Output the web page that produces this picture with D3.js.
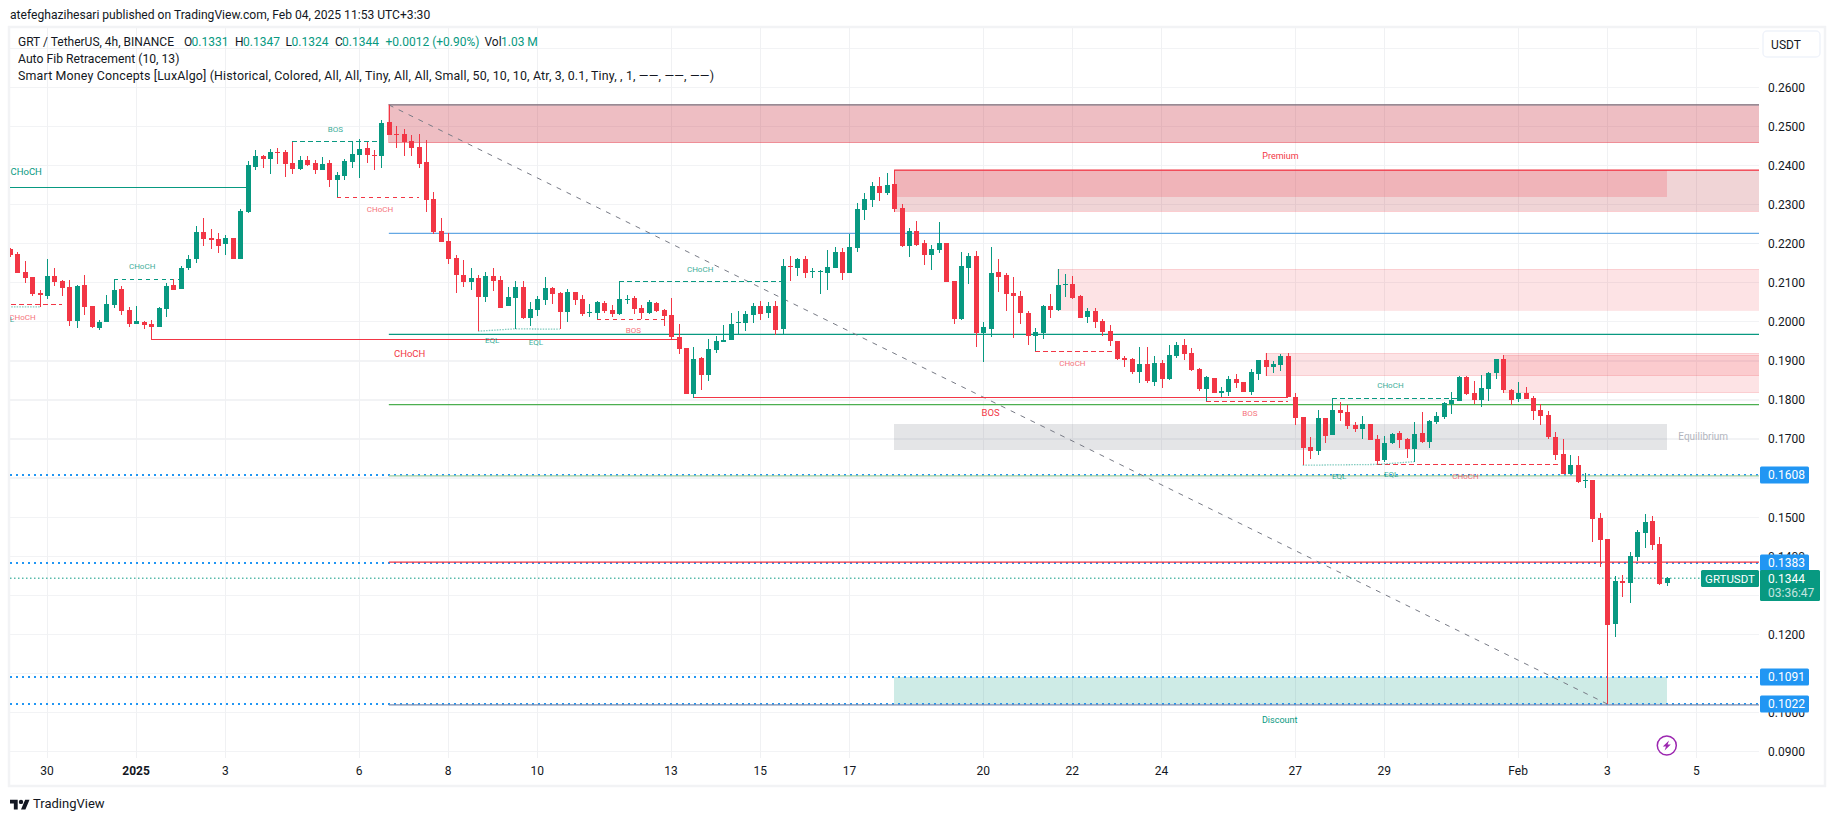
<!DOCTYPE html>
<html>
<head>
<meta charset="utf-8">
<script src="https://cdn.jsdelivr.net/npm/d3@7"></script>
<style>
  html, body { margin: 0; padding: 0; background: #fff; }
  svg { display: block; font-family: Roboto, sans-serif; }
  text { fill: #131722; }
</style>
</head>
<body>
<svg id="chart" width="1835" height="821"></svg>
<script>
// candles, one row = 10 bars of 4h
var opens = [
  .2185,.2173,.2127,.2114,.2073,.2065,.2116,.2104,.2088,.2001,
  .2093,.2040,.1983,.1999,.2042,.2083,.2029,.1994,.1999,.1994,
  .1986,.2032,.2093,.2083,.2137,.2160,.2229,.2214,.2211,.2198,
  .2214,.2160,.2281,.2397,.2424,.2417,.2435,.2435,.2406,.2391,
  .2414,.2406,.2388,.2406,.2363,.2372,.2409,.2427,.2445,.2427,
  .2424,.2511,.2481,.2481,.2463,.2447,.2409,.2314,.2232,.2207,
  .2162,.2119,.2101,.2111,.2063,.2116,.2106,.2040,.2060,.2088,
  .2009,.2029,.2055,.2086,.2073,.2024,.2075,.2058,.2023,.2022,
  .2047,.2029,.2020,.2057,.2061,.2036,.2023,.2049,.2031,.2018,
  .1962,.1933,.1816,.1908,.1864,.1928,.1949,.1954,.1998,.1997,
  .2018,.2041,.2023,.2041,.1982,.2143,.2138,.2161,.2128,.2129,
  .2125,.2138,.2179,.2125,.2189,.2287,.2312,.2348,.2330,.2353,
  .2292,.2194,.2233,.2202,.2171,.2184,.2202,.2105,.2008,.2138,
  .2169,.1972,.1982,.2128,.2120,.2074,.2067,.2023,.1964,.1972,
  .2041,.2031,.2096,.2097,.2067,.2013,.2028,.2003,.1977,.1951,
  .1908,.1905,.1872,.1892,.1846,.1895,.1854,.1913,.1941,.1921,
  .1880,.1829,.1857,.1818,.1821,.1854,.1846,.1821,.1867,.1903,
  .1885,.1890,.1913,.1807,.1757,.1680,.1670,.1754,.1711,.1775,
  .1769,.1736,.1726,.1739,.1700,.1646,.1690,.1716,.1700,.1675,
  .1716,.1693,.1744,.1757,.1790,.1798,.1859,.1818,.1799,.1828,
  .1868,.1904,.1825,.1802,.1819,.1804,.1774,.1761,.1705,.1661,
  .1610,.1633,.1593,.1595,.1498,.1444,.1226,.1336,.1331,.1398,
  .1459,.1490,.1431,.1331
];
var highs = [
  .2188,.2178,.2155,.2114,.2081,.2160,.2137,.2108,.2106,.2093,
  .2119,.2040,.2004,.2068,.2108,.2091,.2037,.2040,.2001,.2004,
  .2037,.2098,.2110,.2142,.2170,.2244,.2265,.2237,.2226,.2221,
  .2214,.2288,.2412,.2440,.2428,.2442,.2444,.2440,.2461,.2424,
  .2425,.2414,.2422,.2414,.2384,.2417,.2463,.2467,.2461,.2440,
  .2516,.2554,.2501,.2493,.2478,.2481,.2465,.2332,.2266,.2226,
  .2170,.2157,.2137,.2119,.2127,.2137,.2116,.2088,.2104,.2104,
  .2050,.2065,.2114,.2088,.2075,.2083,.2075,.2068,.2045,.2052,
  .2052,.2042,.2105,.2069,.2067,.2044,.2056,.2051,.2033,.2061,
  .1995,.1933,.1936,.1910,.1956,.1964,.1992,.2023,.2028,.2028,
  .2049,.2054,.2051,.2054,.2161,.2169,.2164,.2169,.2138,.2133,
  .2184,.2192,.2189,.2225,.2305,.2330,.2358,.2371,.2381,.2389,
  .2301,.2241,.2258,.2210,.2197,.2256,.2202,.2105,.2179,.2177,
  .2182,.2000,.2192,.2161,.2125,.2115,.2079,.2028,.1985,.2044,
  .2072,.2136,.2123,.2118,.2069,.2036,.2036,.2008,.1992,.1951,
  .1913,.1908,.1936,.1936,.1913,.1903,.1941,.1949,.1956,.1933,
  .1882,.1862,.1857,.1833,.1862,.1867,.1846,.1880,.1903,.1920,
  .1900,.1918,.1920,.1818,.1757,.1706,.1775,.1754,.1804,.1795,
  .1787,.1744,.1759,.1739,.1711,.1708,.1716,.1721,.1703,.1744,
  .1770,.1749,.1770,.1795,.1821,.1862,.1862,.1849,.1863,.1872,
  .1904,.1914,.1828,.1845,.1833,.1810,.1789,.1771,.1717,.1700,
  .1659,.1656,.1613,.1595,.1510,.1444,.1349,.1352,.1411,.1467,
  .1508,.1503,.1449,.1347
];
var lows = [
  .2165,.2125,.2099,.2066,.2037,.2058,.2091,.2065,.1988,.1983,
  .2017,.1983,.1978,.1999,.2035,.2017,.1986,.1994,.1981,.1954,
  .1986,.2011,.2081,.2083,.2132,.2150,.2193,.2185,.2175,.2170,
  .2160,.2160,.2279,.2388,.2394,.2379,.2404,.2371,.2379,.2388,
  .2399,.2378,.2388,.2346,.2319,.2363,.2393,.2369,.2406,.2388,
  .2394,.2478,.2445,.2424,.2424,.2394,.2281,.2225,.2204,.2149,
  .2073,.2089,.2081,.1976,.2050,.2078,.2035,.2040,.1982,.2006,
  .1988,.2016,.2042,.2045,.1981,.1999,.2042,.2014,.2011,.2006,
  .2022,.2011,.2018,.2046,.2020,.2008,.2020,.2026,.1988,.1956,
  .1918,.1816,.1806,.1826,.1849,.1921,.1949,.1954,.1967,.1977,
  .1997,.2005,.2010,.1967,.1969,.2105,.2118,.2113,.2113,.2072,
  .2082,.2138,.2107,.2125,.2179,.2261,.2294,.2310,.2325,.2281,
  .2192,.2166,.2194,.2146,.2133,.2177,.2102,.1995,.2005,.2097,
  .1936,.1898,.1962,.2077,.2028,.1959,.1995,.1941,.1925,.1956,
  .2010,.2028,.2064,.2059,.2010,.1997,.1985,.1964,.1939,.1903,
  .1885,.1867,.1844,.1844,.1836,.1831,.1852,.1908,.1903,.1875,
  .1823,.1798,.1818,.1808,.1810,.1831,.1821,.1813,.1851,.1862,
  .1869,.1874,.1807,.1736,.1633,.1649,.1659,.1690,.1711,.1746,
  .1726,.1718,.1700,.1698,.1634,.1641,.1688,.1677,.1652,.1641,
  .1690,.1677,.1739,.1752,.1764,.1798,.1813,.1790,.1782,.1797,
  .1853,.1818,.1787,.1794,.1802,.1748,.1735,.1700,.1646,.1610,
  .1610,.1587,.1574,.1437,.1372,.1022,.1193,.1296,.1280,.1388,
  .1421,.1416,.1326,.1324
];
var closes = [
  .2170,.2125,.2111,.2070,.2068,.2116,.2101,.2086,.2001,.2091,
  .2037,.1986,.1999,.2045,.2081,.2027,.1994,.2001,.1991,.1986,
  .2035,.2091,.2081,.2137,.2160,.2229,.2211,.2209,.2193,.2214,
  .2160,.2284,.2401,.2424,.2417,.2435,.2433,.2404,.2391,.2414,
  .2401,.2388,.2404,.2363,.2376,.2412,.2429,.2442,.2427,.2425,
  .2508,.2478,.2479,.2460,.2445,.2404,.2312,.2230,.2204,.2161,
  .2119,.2101,.2111,.2063,.2116,.2104,.2036,.2063,.2088,.2009,
  .2032,.2058,.2086,.2070,.2024,.2075,.2055,.2019,.2025,.2050,
  .2027,.2019,.2059,.2059,.2033,.2023,.2051,.2028,.2015,.1962,
  .1931,.1816,.1905,.1864,.1931,.1951,.1954,.1995,.2000,.2020,
  .2041,.2020,.2041,.1980,.2143,.2142,.2161,.2125,.2130,.2131,
  .2141,.2179,.2125,.2192,.2289,.2315,.2348,.2330,.2351,.2289,
  .2194,.2233,.2197,.2171,.2187,.2202,.2102,.2008,.2143,.2169,
  .1972,.1987,.2125,.2115,.2072,.2067,.2023,.1964,.1974,.2041,
  .2031,.2095,.2097,.2061,.2010,.2028,.2000,.1974,.1951,.1905,
  .1903,.1872,.1892,.1849,.1895,.1854,.1916,.1941,.1918,.1877,
  .1829,.1859,.1818,.1823,.1854,.1844,.1821,.1872,.1903,.1885,
  .1892,.1913,.1807,.1754,.1677,.1670,.1754,.1708,.1775,.1767,
  .1734,.1726,.1739,.1698,.1644,.1690,.1713,.1698,.1675,.1713,
  .1693,.1746,.1759,.1793,.1800,.1859,.1816,.1800,.1830,.1869,
  .1904,.1825,.1799,.1817,.1802,.1771,.1758,.1705,.1659,.1610,
  .1633,.1590,.1595,.1495,.1441,.1224,.1336,.1331,.1400,.1462,
  .1487,.1429,.1329,.1344
];

// time axis: bar number -> label
var timeTickBars = [5, 17, 29, 47, 59, 71, 89, 101, 113, 131, 143, 155, 173, 185, 203, 215, 227];
var timeTickNames = ["30", "2025", "3", "6", "8", "10", "13", "15", "17", "20", "22", "24", "27", "29", "Feb", "3", "5"];
// 0.11, 0.13 and 0.16 sit fully behind the price tags
var priceTicks = [.09, .10, .12, .14, .15, .17, .18, .19, .20, .21, .22, .23, .24, .25, .26];
var gridPrices = d3.range(9, 28).map(d => d / 100);

// zones: from bar, to bar (null = right edge), top, bottom, kind
var zones = [
  [51, null, .2555, .2458, "fib"],
  [119, null, .2388, .2283, "fibLight"],
  [119, 223, .2388, .2320, "block"],
  [141, null, .2135, .2029, "pale"],
  [169, null, .1920, .1862, "pale"],
  [201, null, .1914, .1818, "pale"],
  [119, 223, .1739, .1673, "mid"],
  [119, 223, .1091, .1022, "discount"]
];

// long levels that run to the right edge
var fibPrices = [.2555, .2388, .2226, .1968, .1788, .1606, .1385, .1020];
var fibStarts = [51, 119, 51, 51, 51, 51, 51, 51];
var fibKinds = ["gray", "red", "blue", "teal", "green", "paleGreen", "red", "slate"];

// structure breaks: from bar, to bar, price, kind
var breakLines = [
  [-2, 32, .2344, "teal"],
  [19, 90, .1955, "red"],
  [92, 172, .1807, "red"],
  [14, 23, .2108, "tealDash"],
  [38, 50, .2462, "tealDash"],
  [82, 104, .2104, "tealDash"],
  [178, 195, .1804, "tealDash"],
  [-2, 7, .2044, "redDash"],
  [44, 55, .2319, "redDash"],
  [79, 88, .2007, "redDash"],
  [138, 149, .1925, "redDash"],
  [161, 172, .1797, "redDash"],
  [184, 209, .1636, "redDash"]
];

// equal lows, dotted polylines
var eqlBars = [[-2, 4], [63, 68, 74], [174, 184, 189]];
var eqlPrices = [[.2038, .2038], [.1976, .1982, .1981], [.1633, .1635, .1642]];

var labelNames = ["CHoCH", "CHoCH", "BOS", "CHoCH", "CHoCH", "EQL", "BOS", "CHoCH", "EQL", "EQL", "BOS", "CHoCH", "CHoCH", "BOS", "CHoCH", "EQL", "EQL", "CHoCH", "Premium", "Equilibrium", "Discount"];
var labelBars = [2.2, 53.8, 132, 17.8, 1.7, -0.4, 43.8, 49.8, 64.9, 70.8, 83.9, 92.9, 143, 166.9, 185.8, 178.9, 185.9, 195.9, 171, 227.9, 170.9];
var labelPrices = [.2384, .1918, .1768, .2141, .2013, .2007, .2494, .2287, .1953, .1948, .1978, .2134, .1894, .1766, .1837, .1604, .1610, .1604, .2425, .1706, .0982];
var labelKinds = ["bigTeal", "bigRed", "bigRed", "smallTeal", "smallRed", "smallTeal", "smallTeal", "smallRed", "smallTeal", "smallTeal", "smallRed", "smallTeal", "smallRed", "smallRed", "smallTeal", "smallTeal", "smallTeal", "smallRed", "premium", "equilibrium", "discount"];

// blue horizontal rays
var rayPrices = [.1608, .1383, .1091, .1022];
var lastPrice = .1344;

var legendRow = [
  ["GRT / TetherUS, 4h, BINANCE", 18, "#131722"], ["O", 184, "#131722"], ["0.1331", 191.5, "#089981"],
  ["H", 235, "#131722"], ["0.1347", 243, "#089981"], ["L", 285.5, "#131722"], ["0.1324", 291.5, "#089981"],
  ["C", 335, "#131722"], ["0.1344", 342, "#089981"], ["+0.0012 (+0.90%)", 385.5, "#089981"],
  ["Vol", 484.5, "#131722"], ["1.03 M", 501, "#089981"]
];

var RED = "#f23645", GREEN = "#089981";
var plotLeft = 10, plotRight = 1759, plotTop = 28, plotBottom = 758;

var svg = d3.select("#chart");

var x = d3.scaleLinear().domain([0, 223]).range([9.9, 1666.8]);
var y = d3.scaleLinear().domain([.26, .09]).range([87.3, 751.7]);
var rightBar = x.invert(plotRight + 2);

svg.append("rect")
  .attr("x", 9).attr("y", 27)
  .attr("width", 1816).attr("height", 759)
  .attr("fill", "#fff")
  .attr("stroke", "#f2f3f5")
  .attr("stroke-width", 2.5);

svg.append("clipPath").attr("id", "plot")
  .append("rect")
  .attr("x", plotLeft).attr("y", plotTop)
  .attr("width", plotRight - plotLeft).attr("height", plotBottom - plotTop);

// grid
var grid = svg.append("g").attr("shape-rendering", "crispEdges");
grid.selectAll(".h")
  .data(gridPrices)
  .enter().append("line")
  .attr("x1", plotLeft).attr("x2", plotRight)
  .attr("y1", d => y(d)).attr("y2", d => y(d))
  .attr("stroke", "#f2f3f5").attr("stroke-width", 1.3);
grid.selectAll(".v")
  .data(timeTickBars)
  .enter().append("line")
  .attr("x1", d => x(d)).attr("x2", d => x(d))
  .attr("y1", plotTop).attr("y2", plotBottom)
  .attr("stroke", "#f0f1f3");

var plot = svg.append("g").attr("clip-path", "url(#plot)");

// zones
var zoneFill = {
  fib: "rgba(200,40,55,.3)", fibLight: "rgba(178,40,51,.2)", block: "rgba(242,54,69,.2)",
  pale: "rgba(242,54,69,.14)", mid: "rgba(120,123,134,.2)", discount: "rgba(8,153,129,.2)"
};
var zoneStroke = {
  fib: "rgba(242,54,69,.35)", fibLight: "rgba(242,54,69,.25)", block: "none",
  pale: "rgba(242,54,69,.12)", mid: "none", discount: "none"
};
plot.append("g").attr("shape-rendering", "crispEdges")
  .selectAll("rect")
  .data(zones)
  .enter().append("rect")
  .attr("x", d => x(d[0]))
  .attr("y", d => y(d[2]))
  .attr("width", d => x(d[1] === null ? rightBar : d[1]) - x(d[0]))
  .attr("height", d => y(d[3]) - y(d[2]))
  .attr("fill", d => zoneFill[d[4]])
  .attr("stroke", d => zoneStroke[d[4]]);

// blue rays, under the levels
plot.append("g").attr("shape-rendering", "crispEdges")
  .selectAll("line")
  .data(rayPrices)
  .enter().append("line")
  .attr("x1", plotLeft).attr("x2", plotRight)
  .attr("y1", d => y(d)).attr("y2", d => y(d))
  .attr("stroke", "#2196f3")
  .attr("stroke-width", 2)
  .attr("stroke-dasharray", "2 4");

// fib levels
var fibColor = {
  gray: "#787b86", red: RED, blue: "#64a8e4", teal: GREEN,
  green: "#4caf50", paleGreen: "#9ccc9e", slate: "#7a8cb0"
};
plot.append("g")
  .selectAll("line")
  .data(fibPrices)
  .enter().append("line")
  .attr("x1", (d, i) => x(fibStarts[i])).attr("x2", plotRight)
  .attr("y1", d => y(d)).attr("y2", d => y(d))
  .attr("stroke", (d, i) => fibColor[fibKinds[i]])
  .attr("stroke-width", 1.3);

// diagonal of the fib tool
plot.append("line")
  .attr("x1", x(51)).attr("y1", y(.2555))
  .attr("x2", x(215)).attr("y2", y(.1022))
  .attr("stroke", "#787b86")
  .attr("stroke-width", 1)
  .attr("stroke-dasharray", "5 6");

// last price
plot.append("line")
  .attr("x1", plotLeft).attr("x2", plotRight)
  .attr("y1", y(lastPrice)).attr("y2", y(lastPrice))
  .attr("stroke", GREEN)
  .attr("stroke-width", 1)
  .attr("stroke-dasharray", "1.5 2.5");

// structure lines
var breakColor = { teal: GREEN, red: RED, tealDash: GREEN, redDash: RED };
plot.append("g").attr("shape-rendering", "crispEdges")
  .selectAll("line")
  .data(breakLines)
  .enter().append("line")
  .attr("x1", d => x(d[0])).attr("x2", d => x(d[1]))
  .attr("y1", d => y(d[2])).attr("y2", d => y(d[2]))
  .attr("stroke", d => breakColor[d[3]])
  .attr("stroke-width", 1.1)
  .attr("stroke-dasharray", d => d[3].indexOf("Dash") > 0 ? "4.5 3.5" : null);

var eqlLine = d3.line().x(d => x(d[0])).y(d => y(d[1]));
plot.append("g")
  .selectAll("path")
  .data(eqlBars.map((bars, k) => bars.map((b, j) => [b, eqlPrices[k][j]])))
  .enter().append("path")
  .attr("d", eqlLine)
  .attr("fill", "none")
  .attr("stroke", GREEN)
  .attr("stroke-opacity", .5)
  .attr("stroke-width", 1.3)
  .attr("stroke-dasharray", "1.5 1.2");

// candles
var bars = d3.range(opens.length);
var candles = plot.append("g").attr("shape-rendering", "crispEdges");
candles.selectAll(".wick")
  .data(bars)
  .enter().append("rect")
  .attr("x", i => Math.round(x(i)))
  .attr("y", i => y(highs[i]))
  .attr("width", 1)
  .attr("height", i => y(lows[i]) - y(highs[i]))
  .attr("fill", i => closes[i] >= opens[i] ? GREEN : RED);
candles.selectAll(".body")
  .data(bars)
  .enter().append("rect")
  .attr("x", i => Math.round(x(i)) - 2)
  .attr("y", i => y(Math.max(opens[i], closes[i])))
  .attr("width", 5)
  .attr("height", i => Math.max(1, Math.abs(y(opens[i]) - y(closes[i]))))
  .attr("fill", i => closes[i] >= opens[i] ? GREEN : RED);

// indicator labels
var labelStyle = {
  bigTeal: [9.5, GREEN, 1], bigRed: [9.5, RED, 1],
  smallTeal: [8, GREEN, .8], smallRed: [8, RED, .7],
  premium: [9, RED, 1], equilibrium: [10, "#b2b5be", 1], discount: [9, GREEN, 1]
};
plot.append("g")
  .selectAll("text")
  .data(labelNames)
  .enter().append("text")
  .attr("x", (d, i) => x(labelBars[i]))
  .attr("y", (d, i) => y(labelPrices[i]))
  .attr("dy", "0.35em")
  .attr("text-anchor", "middle")
  .attr("font-size", (d, i) => labelStyle[labelKinds[i]][0])
  .attr("opacity", (d, i) => labelStyle[labelKinds[i]][2])
  .style("fill", (d, i) => labelStyle[labelKinds[i]][1])
  .text(d => d);

// axes
var priceAxis = d3.axisRight(y)
  .tickValues(priceTicks)
  .tickFormat(d3.format(".4f"))
  .tickSize(0)
  .tickPadding(0);
var priceG = svg.append("g")
  .attr("transform", "translate(" + 1768 + ",0)")
  .call(priceAxis);
priceG.select(".domain").remove();
priceG.selectAll("text").attr("font-size", 12).attr("font-family", "Roboto, sans-serif");

var timeAxis = d3.axisBottom(x)
  .tickValues(timeTickBars)
  .tickFormat((d, i) => timeTickNames[i])
  .tickSize(0)
  .tickPadding(0);
var timeG = svg.append("g")
  .attr("transform", "translate(-0.6," + 766 + ")")
  .call(timeAxis);
timeG.select(".domain").remove();
timeG.selectAll("text")
  .attr("font-size", 12)
  .attr("font-family", "Roboto, sans-serif")
  .attr("font-weight", d => d === 17 ? 700 : 400);

// price tags
var tags = svg.append("g");
tags.selectAll("rect")
  .data(rayPrices)
  .enter().append("rect")
  .attr("x", 1760).attr("width", 49)
  .attr("y", d => y(d) - 8.5).attr("height", 17)
  .attr("rx", 1.5)
  .attr("fill", "#2196f3");
tags.selectAll("text")
  .data(rayPrices)
  .enter().append("text")
  .attr("x", 1768)
  .attr("y", d => y(d))
  .attr("dy", "0.35em")
  .attr("font-size", 12)
  .style("fill", "#fff")
  .text(d3.format(".4f"));

tags.append("rect")
  .attr("x", 1701).attr("y", 570).attr("width", 58).attr("height", 17)
  .attr("rx", 1.5).attr("fill", GREEN);
tags.append("text")
  .attr("x", 1730).attr("y", 578.7).attr("dy", "0.35em")
  .attr("text-anchor", "middle").attr("font-size", 11.5)
  .style("fill", "#fff").text("GRTUSDT");
tags.append("rect")
  .attr("x", 1760).attr("y", 570).attr("width", 60).attr("height", 31)
  .attr("rx", 1.5).attr("fill", GREEN);
tags.append("text")
  .attr("x", 1768).attr("y", 578.7).attr("dy", "0.35em")
  .attr("font-size", 12).style("fill", "#fff").text(d3.format(".4f")(lastPrice));
tags.append("text")
  .attr("x", 1768).attr("y", 592.7).attr("dy", "0.35em")
  .attr("font-size", 12).style("fill", "#fff").attr("opacity", .75).text("03:36:47");

// currency button
svg.append("rect")
  .attr("x", 1763).attr("y", 31).attr("width", 57).attr("height", 26)
  .attr("rx", 4).attr("fill", "#fff")
  .attr("stroke", "#f0f3fa").attr("stroke-width", 1.5);
svg.append("text")
  .attr("x", 1786).attr("y", 44.5).attr("dy", "0.35em")
  .attr("text-anchor", "middle").attr("font-size", 12).text("USDT");

// header and legend
svg.append("text")
  .attr("x", 10).attr("y", 15).attr("dy", "0.35em")
  .attr("font-size", 12.1)
  .text("atefeghazihesari published on TradingView.com, Feb 04, 2025 11:53 UTC+3:30");

svg.append("g").selectAll("text")
  .data(legendRow)
  .enter().append("text")
  .attr("x", d => d[1]).attr("y", 41.5).attr("dy", "0.35em")
  .attr("font-size", 12)
  .style("fill", d => d[2])
  .text(d => d[0]);
svg.append("text")
  .attr("x", 18).attr("y", 59).attr("dy", "0.35em").attr("font-size", 12.2)
  .text("Auto Fib Retracement (10, 13)");
svg.append("text")
  .attr("x", 18).attr("y", 76).attr("dy", "0.35em").attr("font-size", 12.4)
  .attr("textLength", 696)
  .text("Smart Money Concepts [LuxAlgo] (Historical, Colored, All, All, Tiny, All, All, Small, 50, 10, 10, Atr, 3, 0.1, Tiny, , 1, \u2014\u2014, \u2014\u2014, \u2014\u2014)");

// flash marker
var flash = svg.append("g").attr("transform", "translate(" + x(223) + ",745.5)");
flash.append("circle")
  .attr("r", 9.5).attr("fill", "#fff")
  .attr("stroke", "#9c27b0").attr("stroke-width", 1.5);
flash.append("path")
  .attr("d", "M2.2 -5 L-4 1 H-0.8 L-2.2 5 L4 -1 H0.8 Z")
  .attr("fill", "#9c27b0");

// TradingView mark
var logo = svg.append("g").attr("transform", "translate(10,797.5) scale(.55)");
logo.append("path")
  .attr("d", "M14 22H7V11H0V4h14v18zM28 22h-8l7.5-18h8L28 22z")
  .attr("fill", "#131722");
logo.append("circle").attr("cx", 20).attr("cy", 8).attr("r", 4).attr("fill", "#131722");
svg.append("text")
  .attr("x", 33).attr("y", 803.5).attr("dy", "0.35em")
  .attr("font-size", 13)
  .text("TradingView");
</script>
</body>
</html>
